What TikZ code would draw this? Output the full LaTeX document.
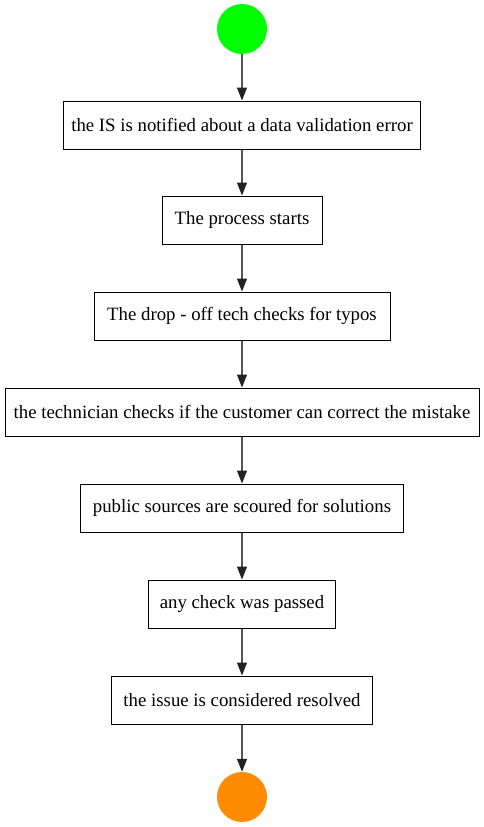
\documentclass[tikz,border=0pt]{standalone}
\usepackage{fontspec}
\setmainfont{Liberation Serif}
\usetikzlibrary{arrows.meta}
\definecolor{startc}{HTML}{00FF00}
\definecolor{endc}{HTML}{FF8C00}
\definecolor{edgec}{HTML}{555555}
\definecolor{tipc}{HTML}{222222}
\tikzset{
  stepbox/.style={draw=black, line width=1pt, rectangle, minimum height=48pt, inner sep=0pt, font=\fontsize{18.8}{22}\selectfont},
  dot/.style={circle, minimum size=50pt, inner sep=0pt},
  flow/.style={draw=edgec, line width=1.3pt, -{Triangle[length=13pt,width=10pt,fill=tipc,color=tipc]}},
}
\begin{document}
\begin{tikzpicture}[x=1pt,y=-1pt]
\useasboundingbox (0,0) rectangle (484,827);
\node[dot, fill=startc] (s) at (242,29) {};
\node[stepbox, minimum width=357pt] (b1) at (242,125) {the IS is notified about a data validation error};
\node[stepbox, minimum width=160pt] (b2) at (242,220) {The process starts};
\node[stepbox, minimum width=296pt] (b3) at (242,316) {The drop - off tech checks for typos};
\node[stepbox, minimum width=474pt] (b4) at (242,412) {the technician checks if the customer can correct the mistake};
\node[stepbox, minimum width=323pt] (b5) at (242,508) {public sources are scoured for solutions};
\node[stepbox, minimum width=187pt] (b6) at (242,604) {any check was passed};
\node[stepbox, minimum width=261pt] (b7) at (242,700) {the issue is considered resolved};
\node[dot, fill=endc] (e) at (242,797) {};
\draw[flow] (s) -- (b1);
\draw[flow] (b1) -- (b2);
\draw[flow] (b2) -- (b3);
\draw[flow] (b3) -- (b4);
\draw[flow] (b4) -- (b5);
\draw[flow] (b5) -- (b6);
\draw[flow] (b6) -- (b7);
\draw[flow] (b7) -- (e);
\end{tikzpicture}
\end{document}
